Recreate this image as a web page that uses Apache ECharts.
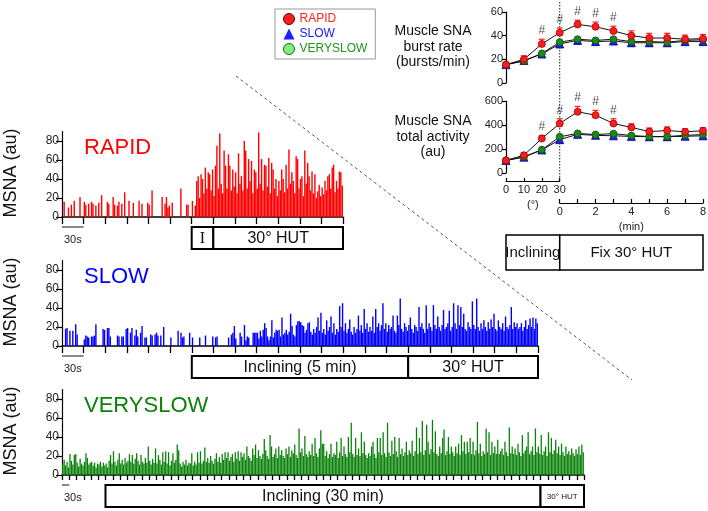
<!DOCTYPE html>
<html><head><meta charset="utf-8">
<script src="https://cdn.jsdelivr.net/npm/echarts@6/dist/echarts.min.js"></script>
<style>html,body{margin:0;padding:0;background:#fff}#c{width:708px;height:511px}</style>
</head><body><div id="c"></div>
<script>
const FONT = '"Liberation Sans", Arial, Helvetica, sans-serif';

// ===== MSNA traces (au), one value per sample step =====
const rapidStep = 2;   // seconds per sample
const rapidMSNA = [
0,16,0,0,10,0,13,0,17,0,0,0,21,0,0,
16,13,0,14,0,16,14,0,12,0,15,0,23,0,0,
0,16,14,0,0,21,13,0,12,16,0,14,0,26,0,
0,17,0,0,15,0,0,0,17,0,14,0,0,0,15,
13,0,28,0,0,0,0,0,0,21,0,14,21,10,12,
0,15,0,0,0,0,0,30,0,0,0,13,13,0,0,
17,0,12,38,43,20,45,40,25,52,30,47,45,28,50,
22,54,75,30,88,35,25,70,54,30,66,54,28,50,32,
47,25,67,35,43,28,80,70,30,61,38,59,25,50,47,
30,89,35,61,28,55,54,32,62,25,57,50,30,40,22,
38,28,50,40,26,55,30,71,35,47,38,25,64,61,30,
40,43,22,70,35,57,43,28,48,25,45,20,27,34,22,
31,24,38,28,43,45,30,52,55,26,38,30,48,47,33];

const slowStep = 2;
const slowMSNA = [
0,0,18,19,0,16,0,16,0,23,12,0,0,0,0,
7,11,10,9,0,10,10,11,23,0,0,0,0,18,17,
0,19,19,10,0,0,0,0,11,10,0,10,10,0,18,
19,0,14,19,0,11,17,10,0,14,21,0,9,9,0,
0,12,11,0,12,14,11,0,11,0,20,0,0,0,0,
9,0,0,0,0,16,0,14,9,10,0,0,0,14,0,
9,0,0,0,0,9,0,0,0,11,0,0,0,0,10,
0,9,10,0,0,0,0,0,0,0,9,0,12,14,21,
8,0,0,14,10,0,22,6,10,9,0,0,14,14,14,
14,8,16,10,17,24,19,10,6,10,27,9,14,17,16,
17,10,30,12,14,17,12,15,34,21,12,10,22,26,26,
25,22,21,14,17,24,25,15,12,18,14,20,30,16,35,
14,18,12,27,16,20,31,14,24,12,18,15,42,20,45,
16,24,14,18,28,15,12,20,14,18,32,16,22,14,39,
18,24,15,20,16,31,14,39,20,24,16,22,45,18,24,
15,22,18,20,32,16,14,32,22,50,18,15,24,20,16,
22,30,18,14,22,20,16,41,20,24,18,14,43,18,24,
20,16,43,22,18,31,20,16,22,38,18,20,24,37,16,
20,45,24,18,43,22,41,20,34,18,16,25,20,18,47,
22,18,50,20,16,24,18,27,20,16,25,18,28,20,34,
18,16,27,20,18,24,16,31,20,18,22,41,18,25,20,
24,18,20,24,16,20,27,18,22,29,20,30,18,29,24];

const veryslowStep = 6;
const veryslowMSNA = [
12,16,10,14,8,22,15,11,21,22,13,9,17,12,10,14,23,18,11,13,
14,10,13,8,12,11,14,9,13,10,12,8,15,21,12,25,14,10,16,23,
12,16,11,18,13,15,22,14,21,12,17,23,15,11,21,14,12,18,13,30,
15,11,17,13,28,12,21,16,11,24,14,25,12,24,10,15,23,13,16,32,
26,12,9,14,11,16,10,13,12,23,10,14,11,24,13,25,12,15,29,14,
18,13,20,15,12,17,23,14,19,13,22,16,24,18,24,15,19,22,14,24,
17,25,15,24,19,23,16,30,20,18,15,28,21,32,18,26,20,17,22,38,
26,20,17,42,30,19,22,28,18,30,21,26,20,18,28,22,30,19,26,23,
32,21,18,49,24,28,20,41,22,19,25,21,33,20,39,23,19,28,47,33,
33,20,25,18,22,33,19,23,21,35,18,24,39,20,30,22,19,40,24,55,
22,19,39,21,28,20,45,23,35,21,18,23,20,30,35,22,18,39,24,39,
21,45,23,19,55,24,20,36,22,40,25,19,39,22,28,20,24,35,21,26,
23,36,20,25,50,22,39,24,57,21,26,53,35,22,27,58,24,46,22,20,
30,23,39,48,21,25,40,22,30,24,20,30,23,33,21,42,25,35,22,35,
24,39,22,35,21,26,56,23,33,20,25,22,49,24,45,21,35,23,30,22,
37,22,25,28,21,35,24,20,50,23,30,22,28,21,33,24,20,42,23,26,
30,45,22,25,30,21,49,24,30,22,42,21,25,30,20,45,24,39,22,26,
37,23,30,21,33,24,20,30,22,25,21,28,23,20,27,22,30,21,32,24];

const rapidPhases = [{label:'I', from:180, to:210, serif:true}, {label:'30° HUT', from:210, to:390}];
const slowPhases = [{label:'Inclining (5 min)', from:180, to:480}, {label:'30° HUT', from:480, to:660}];
const veryslowPhases = [{label:'Inclining (30 min)', from:180, to:1980}, {label:'30° HUT', from:1980, to:2160, small:true}];
const traceTicks = [0, 20, 40, 60, 80];

// ===== summary (mean) data =====
// positions: 0,1,2,3 = 0°,10°,20°,30° (=0 min); 4..11 = 1..8 min
const timeIdx = [0,1,2,3,4,5,6,7,8,9,10,11];
const burstRapid     = [15.5, 20, 33, 42.5, 49.5, 47.5, 44, 40, 38, 38, 37, 37.5];
const burstSlow      = [15.5, 19, 24.5, 33, 36, 35, 35.5, 34, 34, 34, 35, 35];
const burstVerySlow  = [15.5, 18.5, 25, 34.5, 37, 36, 37, 35, 35, 34.5, 36, 36.5];
const burstRapidErr  = [1.5, 3, 4, 4, 3.5, 4, 4, 4, 4, 4, 3.5, 3.5];
const burstSlowErr   = [1.5, 2, 2.5, 3, 3, 3, 3, 3, 3, 3, 3, 3];
const burstVSErr     = [1.5, 2, 2.5, 3, 3, 3, 3.5, 3.5, 3.5, 3.5, 3, 3];
const totalRapid     = [105, 148, 288, 412, 510, 482, 412, 380, 345, 354, 343, 352];
const totalSlow      = [105, 132, 192, 278, 322, 314, 310, 305, 302, 302, 306, 310];
const totalVerySlow  = [105, 135, 194, 302, 330, 320, 328, 312, 304, 304, 314, 320];
const totalRapidErr  = [10, 20, 25, 40, 45, 40, 40, 30, 30, 30, 25, 25];
const totalSlowErr   = [10, 15, 20, 25, 25, 25, 25, 25, 25, 25, 25, 25];
const totalVSErr     = [10, 15, 20, 25, 25, 25, 25, 30, 30, 30, 25, 25];
const sigIdx = [2, 3, 4, 5, 6];
const degreeRange = [0, 30];
const minuteRange = [0, 8];

const chart = echarts.init(document.getElementById('c'), null, {renderer:'canvas', width:708, height:511});

const traceDefs = [
  {key:'RAPID', color:'#ff0000', values:rapidMSNA, step:rapidStep, phases:rapidPhases, box:{left:62, top:131.5, width:281, height:85.5}, tickLen:7, barW:1.4},
  {key:'SLOW', color:'#0000ff', values:slowMSNA, step:slowStep, phases:slowPhases, box:{left:62, top:260.5, width:476, height:85.5}, tickLen:7, barW:1.4},
  {key:'VERYSLOW', color:'#0a820a', values:veryslowMSNA, step:veryslowStep, phases:veryslowPhases, box:{left:62, top:389.5, width:522, height:85.5}, tickLen:5, barW:1.3}
];

const LX = 506, LW = 197;
const grids = traceDefs.map(t => Object.assign({outerBoundsMode:'none'}, t.box));
grids.push({left:LX, top:12, width:LW, height:71, outerBoundsMode:'none'});
grids.push({left:LX, top:101, width:LW, height:72, outerBoundsMode:'none'});
grids.push({left:LX, top:171, width:LW*3/11, height:10, outerBoundsMode:'none'});
grids.push({left:LX + LW*3/11, top:193, width:LW*8/11, height:10, outerBoundsMode:'none'});

const axisLbl = {fontSize:11, color:'#222', fontFamily:FONT};
const xAxes = [], yAxes = [];
traceDefs.forEach((t, i) => {
  xAxes.push({gridIndex:i, type:'value', min:0, max:t.values.length*t.step, interval:30,
    axisLine:{show:true, onZero:false, lineStyle:{color:'#000', width:1.5}},
    axisTick:{show:true, length:t.tickLen, lineStyle:{color:'#000', width:1.3}},
    axisLabel:{show:false}, splitLine:{show:false}});
  yAxes.push({gridIndex:i, type:'value', min:0, max:90, interval:20,
    axisLine:{show:true, lineStyle:{color:'#000', width:1.2}},
    axisTick:{show:true, length:6, customValues:traceTicks, lineStyle:{color:'#000', width:1.2}},
    axisLabel:{customValues:traceTicks, fontSize:12, color:'#222', fontFamily:FONT, margin:3,
      formatter: v => (v <= 80 ? String(v) : '')},
    splitLine:{show:false}});
});
// summary charts
[[60,20],[600,200]].forEach((m, k) => {
  const gi = 3 + k;
  xAxes.push({gridIndex:gi, type:'value', min:0, max:11, show:false});
  yAxes.push({gridIndex:gi, type:'value', min:0, max:m[0], interval:m[1],
    axisLine:{show:true, lineStyle:{color:'#000', width:1.2}},
    axisTick:{show:true, length:4, lineStyle:{color:'#000', width:1.2}},
    axisLabel:Object.assign({margin:3}, axisLbl), splitLine:{show:false}});
});
xAxes.push({gridIndex:5, type:'value', min:degreeRange[0], max:degreeRange[1], interval:10,
  axisLine:{show:true, onZero:false, lineStyle:{color:'#000', width:1.2}},
  axisTick:{show:true, inside:true, length:3, lineStyle:{color:'#000', width:1.2}},
  axisLabel:Object.assign({margin:3}, axisLbl), splitLine:{show:false},
  name:'(°)', nameLocation:'middle', nameGap:18, nameTextStyle:axisLbl});
yAxes.push({gridIndex:5, type:'value', min:0, max:1, show:false});
xAxes.push({gridIndex:6, type:'value', min:minuteRange[0], max:minuteRange[1], interval:1,
  axisLine:{show:true, onZero:false, lineStyle:{color:'#000', width:1.2}},
  axisTick:{show:true, inside:true, length:4, lineStyle:{color:'#000', width:1.2}},
  axisLabel:Object.assign({margin:3, formatter: v => (v % 2 === 0 ? String(v) : '')}, axisLbl), splitLine:{show:false},
  name:'(min)', nameLocation:'middle', nameGap:18, nameTextStyle:axisLbl});
yAxes.push({gridIndex:6, type:'value', min:0, max:1, show:false});

const series = [];
traceDefs.forEach((t, i) => {
  series.push({type:'bar', name:t.key + ' trace', xAxisIndex:i, yAxisIndex:i,
    data: t.values.map((v, k) => [k*t.step + t.step/2, v]),
    barWidth:t.barW, itemStyle:{color:t.color}, clip:false, silent:true});
});

const groupStyle = {
  RAPID:{symbol:'circle', size:7, color:'#ff1c1c', border:'#a00000'},
  SLOW:{symbol:'triangle', size:8, color:'#1e1eff', border:'#000080'},
  VERYSLOW:{symbol:'circle', size:7, color:'#1b8a1b', border:'#0a500a'}
};
function errSeries(gi, vals, errs, dir, color) {
  return {type:'custom', xAxisIndex:gi, yAxisIndex:gi, silent:true, z:2, encode:{x:0, y:1},
    data: timeIdx.map((x, k) => [x, vals[k], errs[k]]),
    renderItem: (params, api) => {
      const x = api.value(0), y = api.value(1), e = api.value(2);
      const top = api.coord([x, y + (dir >= 0 ? e : 0)]);
      const bot = api.coord([x, y - (dir <= 0 ? e : 0)]);
      const st = {stroke:color, lineWidth:1.2};
      const ch = [{type:'line', shape:{x1:top[0], y1:top[1], x2:bot[0], y2:bot[1]}, style:st}];
      if (dir >= 0) ch.push({type:'line', shape:{x1:top[0]-3, y1:top[1], x2:top[0]+3, y2:top[1]}, style:st});
      if (dir <= 0) ch.push({type:'line', shape:{x1:bot[0]-3, y1:bot[1], x2:bot[0]+3, y2:bot[1]}, style:st});
      return {type:'group', children:ch};
    }};
}
function lineSeries(gi, name, vals) {
  const s = groupStyle[name];
  return {type:'line', name, xAxisIndex:gi, yAxisIndex:gi, data: timeIdx.map((x, k) => [x, vals[k]]),
    symbol:s.symbol, symbolSize:s.size, showAllSymbol:true,
    itemStyle:{color:s.color, borderColor:s.border, borderWidth:0.8},
    lineStyle:{color:'#111', width:1}, z:3, emphasis:{disabled:true}, silent:true};
}
function sigSeries(gi, vals, errs) {
  return {type:'scatter', xAxisIndex:gi, yAxisIndex:gi, silent:true, z:5,
    data: sigIdx.map(k => [timeIdx[k], vals[k] + errs[k]]), symbolSize:1,
    itemStyle:{color:'rgba(0,0,0,0)'},
    label:{show:true, formatter:'#', position:'top', distance:2, fontSize:12, color:'#222', fontFamily:FONT}};
}
[[3, burstSlow, burstSlowErr, burstVerySlow, burstVSErr, burstRapid, burstRapidErr],
 [4, totalSlow, totalSlowErr, totalVerySlow, totalVSErr, totalRapid, totalRapidErr]].forEach(d => {
  const gi = d[0];
  series.push(errSeries(gi, d[1], d[2], -1, groupStyle.SLOW.color));
  series.push(errSeries(gi, d[3], d[4], -1, groupStyle.VERYSLOW.color));
  series.push(errSeries(gi, d[5], d[6], 1, groupStyle.RAPID.color));
  series.push(lineSeries(gi, 'SLOW', d[1]));
  series.push(lineSeries(gi, 'VERYSLOW', d[3]));
  series.push(lineSeries(gi, 'RAPID', d[5]));
  series.push(sigSeries(gi, d[5], d[6]));
});

const option = {
  animation:false, backgroundColor:'#fff',
  grid:grids, xAxis:xAxes, yAxis:yAxes, series,
  legend:{orient:'vertical', left:275, top:9, padding:[4,8,4,8], itemGap:3, itemWidth:11, itemHeight:11,
    borderColor:'#999', borderWidth:1, selectedMode:false,
    textStyle:{fontSize:12, fontFamily:FONT},
    data:[
      {name:'RAPID', icon:'circle', itemStyle:{color:'#ff1c1c', borderColor:'#600000', borderWidth:1}, textStyle:{color:'#ff2020'}},
      {name:'SLOW', icon:'triangle', itemStyle:{color:'#1e1eff', borderColor:'#1e1eff', borderWidth:0}, textStyle:{color:'#1515ff'}},
      {name:'VERYSLOW', icon:'circle', itemStyle:{color:'#80ee80', borderColor:'#1b6b1b', borderWidth:1}, textStyle:{color:'#1a961a'}}
    ]}
};
chart.setOption(option);

// ===== annotations positioned via the axes =====
function txt(str, x, y, o) {
  o = o || {};
  return {type:'text', x, y, rotation:o.rotation || 0, z:100,
    style:{text:str, fill:o.fill || '#111', fontSize:o.fontSize || 12, fontFamily:o.fontFamily || FONT,
      align:o.align || 'center', verticalAlign:'middle', textAlign:o.align || 'center', textVerticalAlign:'middle',
      lineHeight:o.lineHeight}};
}
const P = (gi, x, y) => chart.convertToPixel({gridIndex:gi}, [x, y]);
const G = [];
traceDefs.forEach((t, i) => {
  const base = P(i, 0, 0), y0 = base[1];
  t.phases.forEach(p => {
    const a = P(i, p.from, 0)[0], b = P(i, p.to, 0)[0];
    G.push({type:'rect', z:50, shape:{x:a, y:y0 + 10, width:b - a, height:22}, style:{fill:'#fff', stroke:'#000', lineWidth:2}});
    G.push(txt(p.label, (a + b)/2, y0 + 21.5, {fontSize:p.small ? 8 : 16, fontFamily:p.serif ? '"Liberation Serif", serif' : FONT}));
  });
  const s1 = P(i, 30, 0)[0];
  G.push({type:'line', z:50, shape:{x1:base[0], y1:y0 + 10, x2:s1, y2:y0 + 10}, style:{stroke:'#8a8a8a', lineWidth:2}});
  G.push(txt('30s', base[0] + 2, y0 + 23, {fontSize:11, align:'left', fill:'#222'}));
  G.push(txt(t.key, 84, y0 - 69, {fontSize:22, align:'left', fill:t.color}));
  G.push(txt('MSNA (au)', 11, y0 - 44, {fontSize:18, rotation:Math.PI/2, fill:'#111'}));
});
// summary panel annotations
const xDiv = P(3, 3, 0)[0];
G.push({type:'line', z:1, shape:{x1:xDiv, y1:2, x2:xDiv, y2:181}, style:{stroke:'#222', lineWidth:1, lineDash:[1.5,1.5]}});
G.push(txt('Muscle SNA\nburst rate\n(bursts/min)', 433, 47, {fontSize:14, lineHeight:15.5}));
G.push(txt('Muscle SNA\ntotal activity\n(au)', 433, 137, {fontSize:14, lineHeight:15.5}));
const xa = P(4, 0, 0)[0], xc = P(4, 11, 0)[0];
G.push({type:'rect', z:50, shape:{x:xa, y:235, width:xDiv - xa, height:35}, style:{fill:'#fff', stroke:'#000', lineWidth:1.5}});
G.push({type:'rect', z:50, shape:{x:xDiv, y:235, width:xc - xDiv, height:35}, style:{fill:'#fff', stroke:'#000', lineWidth:1.5}});
G.push(txt('Inclining', (xa + xDiv)/2, 252.5, {fontSize:15}));
G.push(txt('Fix 30° HUT', (xDiv + xc)/2, 252.5, {fontSize:15}));
// dashed diagonal separator
G.push({type:'line', z:1, shape:{x1:236, y1:76, x2:632, y2:380}, style:{stroke:'#555', lineWidth:1, lineDash:[3,3]}});
chart.setOption({graphic:G});
</script></body></html>
